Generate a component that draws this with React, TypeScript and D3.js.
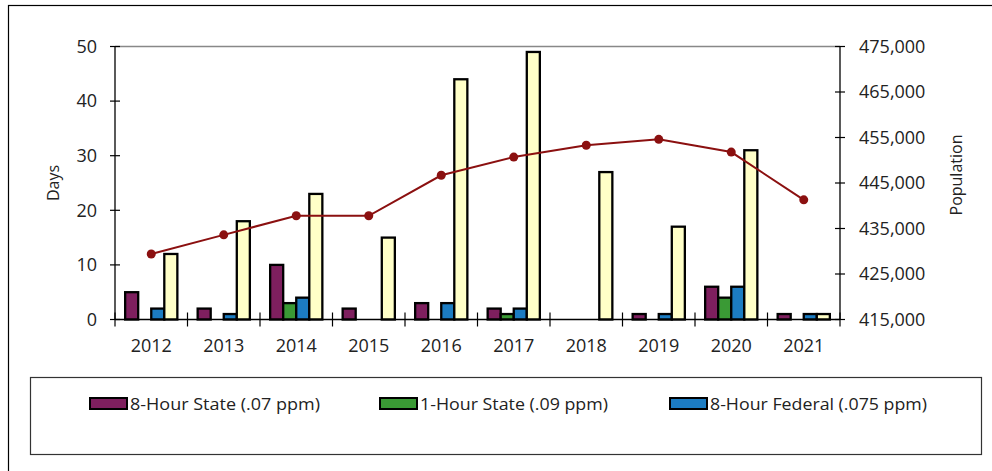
import React from "react";
import * as d3 from "d3";

const years = ["2012","2013","2014","2015","2016","2017","2018","2019","2020","2021"];
const state8 = [5, 2, 10, 2, 3, 2, 0, 1, 6, 1];
const state1 = [0, 0, 3, 0, 0, 1, 0, 0, 4, 0];
const federal8 = [2, 1, 4, 0, 3, 2, 0, 1, 6, 1];
const other = [12, 18, 23, 15, 44, 49, 27, 17, 31, 1];
const population = [429400, 433600, 437800, 437800, 446700, 450700, 453300, 454600, 451800, 441300];
const dayTicks = [0, 10, 20, 30, 40, 50];
const popTicks = [415000, 425000, 435000, 445000, 455000, 465000, 475000];
const legendLabels = ["8-Hour State (.07 ppm)", "1-Hour State (.09 ppm)", "8-Hour Federal (.075 ppm)"];

const seriesColors = ["#7E1F5E", "#3A9A35", "#1C7CC2", "#FFFFC8"];
const FONT = "'Open Sans', 'Noto Sans', sans-serif";

export default function App() {
  const W = 992, H = 471;
  const left = 115, right = 840, top = 46.5, bottom = 319.5;
  const x = d3.scaleBand<string>().domain(years).range([left, right]).padding(0);
  const bw = x.bandwidth();
  const inner = d3.scaleBand<number>().domain([0, 1, 2, 3]).range([bw * 0.14, bw * 0.86]).padding(0);
  const yL = d3.scaleLinear().domain([0, 50]).range([bottom, top]);
  const yR = d3.scaleLinear().domain([415000, 475000]).range([bottom, top]);
  const series = [state8, state1, federal8, other];
  const fmt = d3.format(",");

  const line = d3.line<number>()
    .x((_, i) => (x(years[i]) as number) + bw / 2)
    .y((d) => yR(d))
    .curve(d3.curveLinear);

  const legendItems = [
    { sx: 90, tx: 130, tw: 190 },
    { sx: 380, tx: 420, tw: 188 },
    { sx: 670, tx: 710, tw: 217 },
  ];

  return (
    <svg width={W} height={H} style={{ position: "absolute", left: 0, top: 0, background: "#fff" }} fontFamily={FONT}>
      <rect x={0} y={0} width={W} height={H} fill="#fff" />
      <rect x={8.5} y={5.5} width={1000} height={500} fill="none" stroke="#000" strokeWidth={1.2} />
      <line x1={left} x2={right} y1={yL(50)} y2={yL(50)} stroke="#888" strokeWidth={1.5} />
      {series.map((vals, si) =>
        vals.map((v, i) =>
          v > 0 ? (
            <rect
              key={`b${si}-${i}`}
              x={(x(years[i]) as number) + (inner(si) as number)}
              y={yL(v)}
              width={inner.bandwidth()}
              height={yL(0) - yL(v)}
              fill={seriesColors[si]}
              stroke="#000"
              strokeWidth={2.3}
            />
          ) : null
        )
      )}
      <line x1={left} x2={left} y1={top} y2={bottom} stroke="#000" strokeWidth={1.3} />
      <line x1={right} x2={right} y1={top} y2={bottom} stroke="#000" strokeWidth={1.3} />
      <line x1={left} x2={right} y1={bottom} y2={bottom} stroke="#000" strokeWidth={1.3} />
      {dayTicks.map((t) => (
        <g key={`dl${t}`}>
          <line x1={left - 5} x2={left + 5} y1={yL(t)} y2={yL(t)} stroke="#000" strokeWidth={1.2} />
          <text x={97} y={yL(t)} dy="0.35em" textAnchor="end" fontSize={18} fill="#222">{t}</text>
        </g>
      ))}
      {popTicks.map((t) => (
        <g key={`pr${t}`}>
          <line x1={right - 5} x2={right + 5} y1={yR(t)} y2={yR(t)} stroke="#000" strokeWidth={1.2} />
          <text x={859} y={yR(t)} dy="0.35em" textAnchor="start" fontSize={18} fill="#222">{fmt(t)}</text>
        </g>
      ))}
      {d3.range(years.length + 1).map((i) => {
        const xx = left + i * bw;
        return <line key={`xt${i}`} x1={xx} x2={xx} y1={bottom - 7} y2={bottom + 7} stroke="#000" strokeWidth={1.2} />;
      })}
      {years.map((yv) => (
        <text key={`xl${yv}`} x={(x(yv) as number) + bw / 2} y={352} textAnchor="middle" fontSize={18} fill="#222">{yv}</text>
      ))}
      <text transform={`translate(59,183) rotate(-90)`} textAnchor="middle" fontSize={16} fill="#222">Days</text>
      <text transform={`translate(962,175) rotate(-90)`} textAnchor="middle" fontSize={16} fill="#222">Population</text>
      <path d={line(population) || ""} fill="none" stroke="#8B1010" strokeWidth={2} />
      {population.map((p, i) => (
        <circle key={`pt${i}`} cx={(x(years[i]) as number) + bw / 2} cy={yR(p)} r={4.5} fill="#8B1010" />
      ))}
      <rect x={30.5} y={377.5} width={951} height={77} fill="#fff" stroke="#333" strokeWidth={1.2} />
      {legendItems.map((it, i) => (
        <g key={`lg${i}`}>
          <rect x={it.sx} y={398} width={37} height={11} fill={seriesColors[i]} stroke="#000" strokeWidth={2} />
          <text x={it.tx} y={410} fontSize={17} fill="#222" textLength={it.tw} lengthAdjust="spacingAndGlyphs">{legendLabels[i]}</text>
        </g>
      ))}
    </svg>
  );
}
